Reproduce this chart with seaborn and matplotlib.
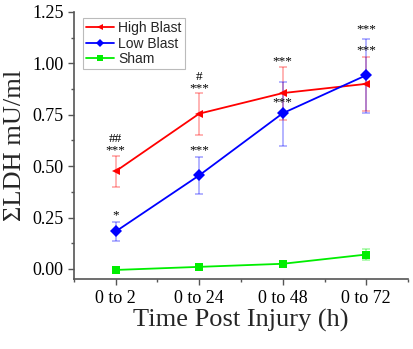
import matplotlib
matplotlib.use("Agg")
import matplotlib.pyplot as plt
import seaborn as sns
import pandas as pd
import numpy as np
from matplotlib.ticker import AutoMinorLocator, MultipleLocator

categories = ["0 to 2", "0 to 24", "0 to 48", "0 to 72"]
high_blast = [0.475, 0.755, 0.855, 0.900]
high_lo = [0.400, 0.650, 0.725, 0.770]
high_hi = [0.550, 0.855, 0.980, 1.030]
low_blast = [0.182, 0.455, 0.757, 0.942]
low_lo = [0.135, 0.365, 0.600, 0.757]
low_hi = [0.230, 0.545, 0.910, 1.120]
sham = [-0.005, 0.010, 0.025, 0.070]
sham_lo = [-0.005, 0.010, 0.025, 0.045]
sham_hi = [-0.005, 0.010, 0.025, 0.095]

series_names = ["High Blast", "Low Blast", "Sham"]
colors = {"High Blast": "#ff0000", "Low Blast": "#0000ff", "Sham": "#00ee00"}
markers = {"High Blast": "<", "Low Blast": "D", "Sham": "s"}

# annotations: (category index, y value, text)
annot_cats = [0, 0, 1, 1, 2, 3, 3, 0, 1, 2]
annot_y = [0.630, 0.575, 0.935, 0.880, 1.010, 1.165, 1.065, 0.260, 0.575, 0.810]
annot_txt = ["##", "***", "#", "***", "***", "***", "***", "*", "***", "***"]

rows = []
for name, vals, lo, hi in [("High Blast", high_blast, high_lo, high_hi),
                           ("Low Blast", low_blast, low_lo, low_hi),
                           ("Sham", sham, sham_lo, sham_hi)]:
    for c, v, l, h in zip(categories, vals, lo, hi):
        rows.append({"Time": c, "LDH": v, "lo": l, "hi": h, "Group": name})
df = pd.DataFrame(rows)

sns.set_style("ticks")
plt.rcParams["font.family"] = ["Liberation Serif", "DejaVu Serif"]

fig = plt.figure(figsize=(4.13, 3.49), dpi=100)
ax = fig.add_axes([0.179, 0.200, 0.809, 0.766])

# error bars
for name in series_names:
    sub = df[df["Group"] == name]
    xpos = np.arange(len(sub))
    yerr = [sub["LDH"] - sub["lo"], sub["hi"] - sub["LDH"]]
    ax.errorbar(xpos, sub["LDH"], yerr=yerr, fmt="none", ecolor=colors[name],
                alpha=0.35, capsize=3, elinewidth=1.2, capthick=1.2, zorder=1)

sns.lineplot(data=df, x="Time", y="LDH", hue="Group", style="Group",
             palette=colors, markers=markers, dashes=False, markersize=6,
             markeredgewidth=0, linewidth=1.3, ax=ax, sort=False, zorder=3)

for c, y, t in zip(annot_cats, annot_y, annot_txt):
    ax.text(c, y, t, ha="center", va="center", fontsize=9.5, color="black",
            zorder=5)

ax.set_xlim(-0.5, 3.5)
ax.set_ylim(-0.05, 1.25)
ax.xaxis.set_minor_locator(MultipleLocator(0.5))
ax.set_yticks([0, 0.25, 0.5, 0.75, 1.0, 1.25])
ax.set_yticklabels(["0.00", "0.25", "0.50", "0.75", "1.00", "1.25"])
ax.yaxis.set_minor_locator(AutoMinorLocator(2))
ax.tick_params(axis="both", which="major", direction="out", length=4,
               width=1, labelsize=13, colors="#555555", labelcolor="black")
ax.tick_params(axis="both", which="minor", direction="out", length=2.5,
               width=1, colors="#555555")
for s in ["left", "bottom"]:
    ax.spines[s].set_color("#555555")
    ax.spines[s].set_linewidth(1.2)
ax.spines["top"].set_visible(False)
ax.spines["right"].set_visible(False)

ax.set_xlabel("Time Post Injury (h)", fontsize=19, labelpad=2)
ax.set_ylabel("ΣLDH mU/ml", fontsize=19, labelpad=4)

leg = ax.legend(loc="upper left", bbox_to_anchor=(0.027, 0.978),
                borderaxespad=0, frameon=True, fancybox=False,
                handlelength=2.0, markerscale=0.75,
                handletextpad=0.3, borderpad=0.25, labelspacing=0.1,
                prop={"family": ["Liberation Sans", "DejaVu Sans"], "size": 10})
leg.get_frame().set_edgecolor("#aaaaaa")
leg.get_frame().set_linewidth(0.8)

fig.savefig("out.png", dpi=100)
